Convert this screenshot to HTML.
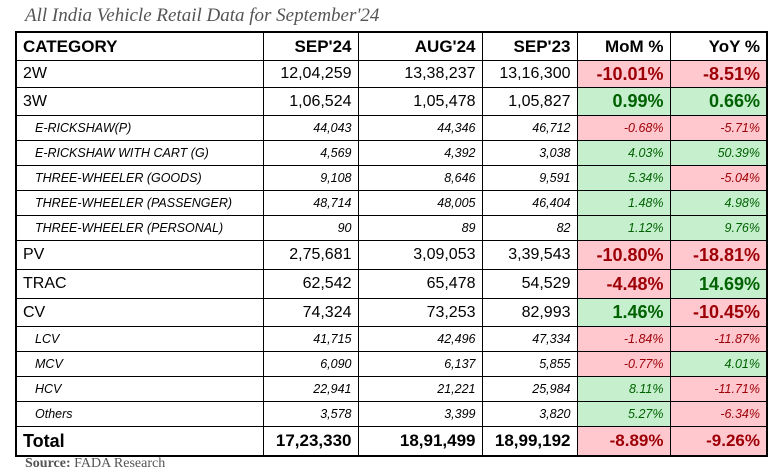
<!DOCTYPE html>
<html><head><meta charset="utf-8"><style>
body{margin:0;width:782px;height:476px;background:#fff;position:relative;overflow:hidden;font-family:"Liberation Sans",sans-serif}
.title{position:absolute;left:25px;top:5px;font:italic 19px "Liberation Serif",serif;color:#555}
.src{position:absolute;left:25px;top:456px;font:14px "Liberation Serif",serif;color:#555}
table{position:absolute;left:15px;top:31px;border-collapse:collapse;table-layout:fixed;border:2px solid #000}
td{border:1px solid #000;padding:0 6px;white-space:nowrap;overflow:hidden;color:#000}
td.n{text-align:right}
tr.h td{font-weight:bold;font-size:17px;height:27px}
tr.m td{font-size:16px;height:26px}
tr.s td{font-size:12.5px;font-style:italic;height:24px}
tr.s td:first-child{padding-left:18px}
tr.m td.p{font-weight:bold;font-size:18px}
tr.t td{font-weight:bold;font-size:17px;height:28px}
tr.t td:first-child{font-size:18px}
.r{background:#ffc7ce;color:#9c0006!important}
.g{background:#c6efce;color:#006100!important}
</style></head><body>
<div class="title">All India Vehicle Retail Data for September'24</div>
<table>
<colgroup><col style="width:247px"><col style="width:95px"><col style="width:124px"><col style="width:95px"><col style="width:93px"><col style="width:97px"></colgroup>
<tr class="h"><td>CATEGORY</td><td class="n">SEP'24</td><td class="n">AUG'24</td><td class="n">SEP'23</td><td class="n">MoM %</td><td class="n">YoY %</td></tr>
<tr class="m"><td>2W</td><td class="n">12,04,259</td><td class="n">13,38,237</td><td class="n">13,16,300</td><td class="n p r">-10.01%</td><td class="n p r">-8.51%</td></tr>
<tr class="m" style="height:28px"><td>3W</td><td class="n">1,06,524</td><td class="n">1,05,478</td><td class="n">1,05,827</td><td class="n p g">0.99%</td><td class="n p g">0.66%</td></tr>
<tr class="s"><td>E-RICKSHAW(P)</td><td class="n">44,043</td><td class="n">44,346</td><td class="n">46,712</td><td class="n r">-0.68%</td><td class="n r">-5.71%</td></tr>
<tr class="s"><td>E-RICKSHAW WITH CART (G)</td><td class="n">4,569</td><td class="n">4,392</td><td class="n">3,038</td><td class="n g">4.03%</td><td class="n g">50.39%</td></tr>
<tr class="s"><td>THREE-WHEELER (GOODS)</td><td class="n">9,108</td><td class="n">8,646</td><td class="n">9,591</td><td class="n g">5.34%</td><td class="n r">-5.04%</td></tr>
<tr class="s"><td>THREE-WHEELER (PASSENGER)</td><td class="n">48,714</td><td class="n">48,005</td><td class="n">46,404</td><td class="n g">1.48%</td><td class="n g">4.98%</td></tr>
<tr class="s"><td>THREE-WHEELER (PERSONAL)</td><td class="n">90</td><td class="n">89</td><td class="n">82</td><td class="n g">1.12%</td><td class="n g">9.76%</td></tr>
<tr class="m" style="height:29px"><td>PV</td><td class="n">2,75,681</td><td class="n">3,09,053</td><td class="n">3,39,543</td><td class="n p r">-10.80%</td><td class="n p r">-18.81%</td></tr>
<tr class="m" style="height:29px"><td>TRAC</td><td class="n">62,542</td><td class="n">65,478</td><td class="n">54,529</td><td class="n p r">-4.48%</td><td class="n p g">14.69%</td></tr>
<tr class="m" style="height:28px"><td>CV</td><td class="n">74,324</td><td class="n">73,253</td><td class="n">82,993</td><td class="n p g">1.46%</td><td class="n p r">-10.45%</td></tr>
<tr class="s"><td>LCV</td><td class="n">41,715</td><td class="n">42,496</td><td class="n">47,334</td><td class="n r">-1.84%</td><td class="n r">-11.87%</td></tr>
<tr class="s"><td>MCV</td><td class="n">6,090</td><td class="n">6,137</td><td class="n">5,855</td><td class="n r">-0.77%</td><td class="n g">4.01%</td></tr>
<tr class="s"><td>HCV</td><td class="n">22,941</td><td class="n">21,221</td><td class="n">25,984</td><td class="n g">8.11%</td><td class="n r">-11.71%</td></tr>
<tr class="s"><td>Others</td><td class="n">3,578</td><td class="n">3,399</td><td class="n">3,820</td><td class="n g">5.27%</td><td class="n r">-6.34%</td></tr>
<tr class="t"><td>Total</td><td class="n">17,23,330</td><td class="n">18,91,499</td><td class="n">18,99,192</td><td class="n r">-8.89%</td><td class="n r">-9.26%</td></tr>
</table>
<div class="src"><b>Source:</b> FADA Research</div>
</body></html>
